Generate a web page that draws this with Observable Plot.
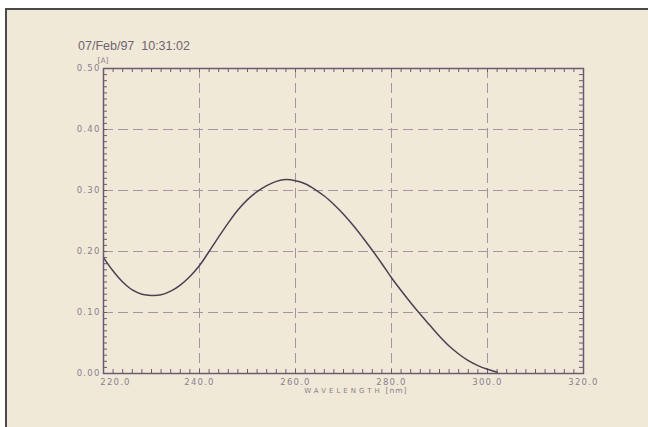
<!DOCTYPE html>
<html><head><meta charset="utf-8">
<script src="https://cdn.jsdelivr.net/npm/d3@7"></script>
<script src="https://cdn.jsdelivr.net/npm/@observablehq/plot@0.6"></script>
<style>
html,body{margin:0;padding:0;background:#fff;}
#page{position:absolute;left:5px;top:8px;width:643px;height:419px;box-sizing:border-box;border-left:2px solid #4a4a4a;border-top:2px solid #4a4a4a;background:#f1e9d8;}
#chart{position:absolute;left:0;top:0;}
#title{position:absolute;left:78px;top:40px;font:12.5px "Liberation Sans",sans-serif;color:#6e6472;white-space:pre;line-height:1;}
</style></head><body>
<div id="page"></div>
<div id="title">07/Feb/97  10:31:02</div>
<div id="chart"></div>
<script>
const wavelength = [220,222,224,226,228,230,232,234,236,238,240,242,244,246,248,250,252,254,256,258,260,262,264,266,268,270,272,274,276,278,280,282,284,286,288,290,292,294,296,298,300,302];
const absorbance = [0.190,0.168,0.150,0.137,0.130,0.128,0.129,0.135,0.145,0.159,0.177,0.200,0.224,0.247,0.268,0.285,0.298,0.308,0.315,0.318,0.316,0.311,0.302,0.291,0.277,0.261,0.243,0.223,0.202,0.180,0.157,0.136,0.116,0.097,0.079,0.061,0.045,0.032,0.021,0.013,0.007,0.002];
const xTicks = [240,260,280,300,320];
const xFirstTick = [220];
const yTicks = [0,0.1,0.2,0.3,0.4,0.5];
const xGrid = [240,260,280,300];
const yGrid = [0.1,0.2,0.3,0.4];
const xMinor = d3.range(220, 321, 2);
const yMinor = d3.range(0, 51).map(i => i / 100);
const xLabel = "WAVELENGTH";
const xUnit = "[nm]";
const yLabel = "[A]";

const data = wavelength.map((w, i) => ({w, a: absorbance[i]}));
const axisColor = "#6a5b70";
const gridColor = "#a395a4";
const labelColor = "#8a7f8e";
const W = 648, H = 427, mL = 103, mR = 65, mT = 68, mB = 54;
const pw = W - mL - mR, ph = H - mT - mB, tl = 4;

const plot = Plot.plot({
  width: W, height: H,
  marginLeft: mL, marginRight: mR, marginTop: mT, marginBottom: mB,
  style: {background: "transparent", fontFamily: "DejaVu Sans", fontSize: "8.5px", color: labelColor},
  x: {domain: [220, 320]},
  y: {domain: [0, 0.5]},
  marks: [
    Plot.ruleX(xGrid, {stroke: gridColor, strokeDasharray: "10,5", strokeWidth: 1}),
    Plot.ruleY(yGrid, {stroke: gridColor, strokeDasharray: "10,5", strokeWidth: 1}),
    Plot.tickX(xMinor, {x: d => d, insetTop: ph - tl, stroke: axisColor, strokeWidth: 1}),
    Plot.tickX(xMinor, {x: d => d, insetBottom: ph - tl, stroke: axisColor, strokeWidth: 1}),
    Plot.tickY(yMinor, {y: d => d, insetRight: pw - tl, stroke: axisColor, strokeWidth: 1}),
    Plot.tickY(yMinor, {y: d => d, insetLeft: pw - tl, stroke: axisColor, strokeWidth: 1}),
    Plot.axisY({ticks: yTicks, tickSize: 0, tickPadding: 3, tickFormat: d3.format(".2f"), label: null, fill: labelColor}),
    Plot.axisX({ticks: xTicks, tickSize: 0, tickPadding: 5, tickFormat: d3.format(".1f"), label: null, fill: labelColor}),
    Plot.axisX({ticks: xFirstTick, tickSize: 0, tickPadding: 5, dx: 12, tickFormat: d3.format(".1f"), label: null, fill: labelColor}),
    Plot.text([xLabel], {text: d => d, frameAnchor: "bottom", dy: 19, fontSize: 7, fill: labelColor}),
    Plot.text([xUnit], {text: d => d, frameAnchor: "bottom", dy: 19, dx: 53, fontSize: 7.5, fill: labelColor}),
    Plot.text([yLabel], {text: d => d, frameAnchor: "top-left", dx: -6, dy: -11, fontSize: 7.5, fill: labelColor}),
    Plot.line(data, {x: "w", y: "a", stroke: "#4b4054", strokeWidth: 1.5, curve: "catmull-rom"}),
    Plot.frame({stroke: axisColor, strokeWidth: 1.5})
  ]
});
document.getElementById("chart").appendChild(plot);
plot.querySelectorAll('g[aria-label="x-axis tick label"] text, g[aria-label="y-axis tick label"] text').forEach(t => t.style.letterSpacing = "1.2px");
plot.querySelectorAll('text').forEach(t => {
  if (t.textContent === xLabel) t.style.letterSpacing = "3px";
  if (t.textContent === xUnit) t.style.letterSpacing = "1px";
});
</script>
</body></html>
